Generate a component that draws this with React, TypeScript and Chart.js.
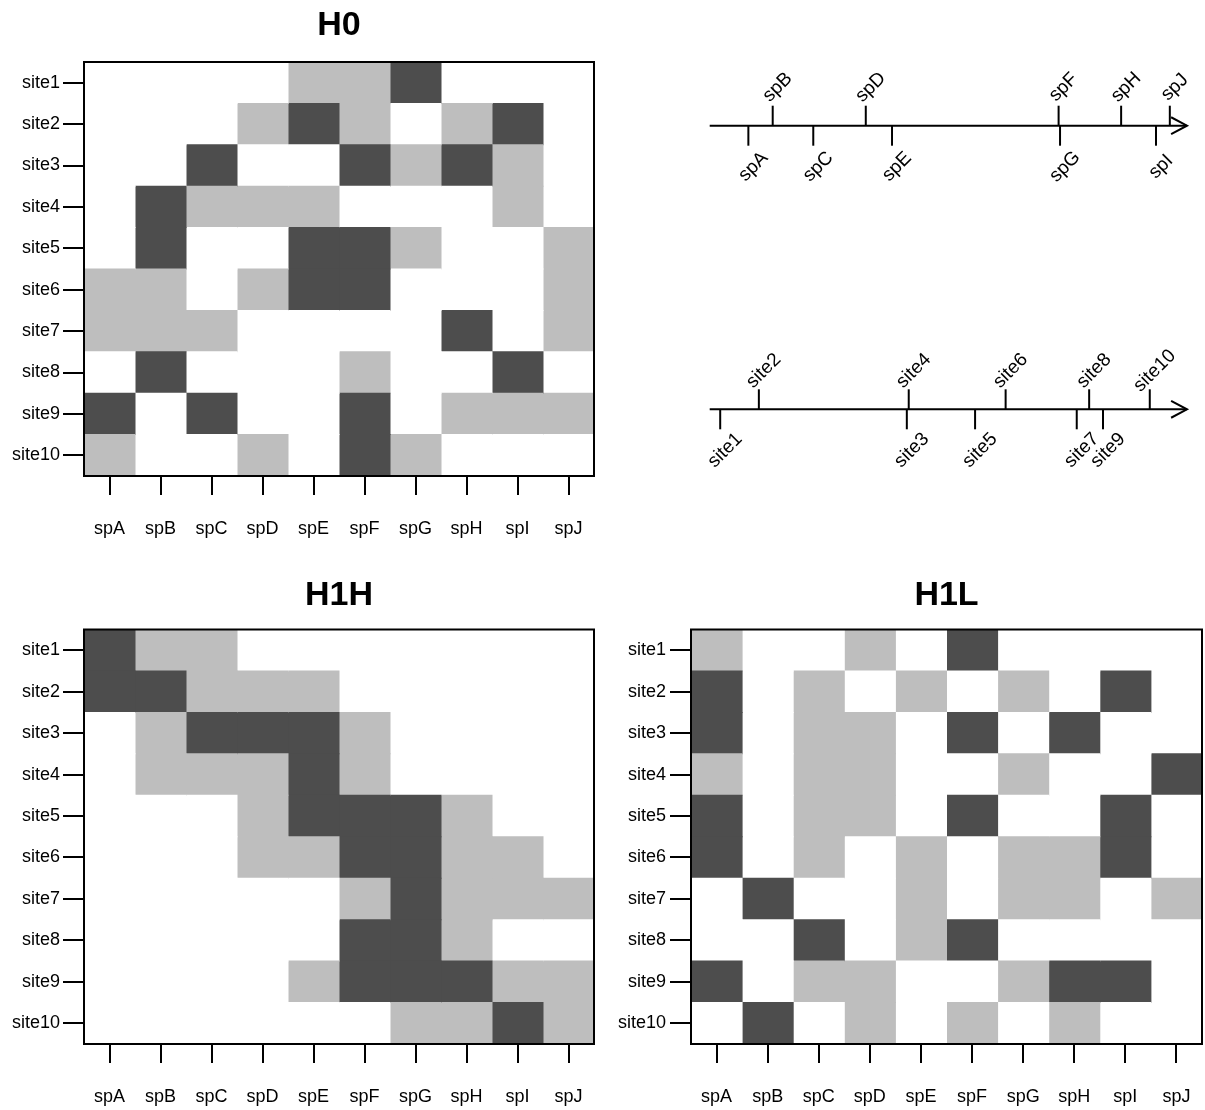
import { useEffect, useRef } from 'react';
import { Chart, registerables } from 'chart.js';

Chart.register(...registerables);

const FONT = '"Liberation Sans", Arial, Helvetica, sans-serif';
Chart.defaults.font.family = FONT;
Chart.defaults.color = '#000';

// Species (columns) and sites (rows)
const species = ['spA', 'spB', 'spC', 'spD', 'spE', 'spF', 'spG', 'spH', 'spI', 'spJ'];
const sites = ['site1', 'site2', 'site3', 'site4', 'site5', 'site6', 'site7', 'site8', 'site9', 'site10'];

// Abundance class per cell: 0 = absent, 1 = low, 2 = high (rows = sites, columns = species)
const h0Grid = [
  [0, 0, 0, 0, 1, 1, 2, 0, 0, 0],
  [0, 0, 0, 1, 2, 1, 0, 1, 2, 0],
  [0, 0, 2, 0, 0, 2, 1, 2, 1, 0],
  [0, 2, 1, 1, 1, 0, 0, 0, 1, 0],
  [0, 2, 0, 0, 2, 2, 1, 0, 0, 1],
  [1, 1, 0, 1, 2, 2, 0, 0, 0, 1],
  [1, 1, 1, 0, 0, 0, 0, 2, 0, 1],
  [0, 2, 0, 0, 0, 1, 0, 0, 2, 0],
  [2, 0, 2, 0, 0, 2, 0, 1, 1, 1],
  [1, 0, 0, 1, 0, 2, 1, 0, 0, 0],
];

const h1hGrid = [
  [2, 1, 1, 0, 0, 0, 0, 0, 0, 0],
  [2, 2, 1, 1, 1, 0, 0, 0, 0, 0],
  [0, 1, 2, 2, 2, 1, 0, 0, 0, 0],
  [0, 1, 1, 1, 2, 1, 0, 0, 0, 0],
  [0, 0, 0, 1, 2, 2, 2, 1, 0, 0],
  [0, 0, 0, 1, 1, 2, 2, 1, 1, 0],
  [0, 0, 0, 0, 0, 1, 2, 1, 1, 1],
  [0, 0, 0, 0, 0, 2, 2, 1, 0, 0],
  [0, 0, 0, 0, 1, 2, 2, 2, 1, 1],
  [0, 0, 0, 0, 0, 0, 1, 1, 2, 1],
];

const h1lGrid = [
  [1, 0, 0, 1, 0, 2, 0, 0, 0, 0],
  [2, 0, 1, 0, 1, 0, 1, 0, 2, 0],
  [2, 0, 1, 1, 0, 2, 0, 2, 0, 0],
  [1, 0, 1, 1, 0, 0, 1, 0, 0, 2],
  [2, 0, 1, 1, 0, 2, 0, 0, 2, 0],
  [2, 0, 1, 0, 1, 0, 1, 1, 2, 0],
  [0, 2, 0, 0, 1, 0, 1, 1, 0, 1],
  [0, 0, 2, 0, 1, 2, 0, 0, 0, 0],
  [2, 0, 1, 1, 0, 0, 1, 2, 2, 0],
  [0, 2, 0, 1, 0, 1, 0, 1, 0, 0],
];

// Positions along the gradient (0 = start of axis, 1 = arrow tip)
const speciesScores = [0.081, 0.132, 0.217, 0.327, 0.382, 0.731, 0.734, 0.862, 0.935, 0.964];
const siteScores = [0.022, 0.103, 0.413, 0.417, 0.556, 0.62, 0.769, 0.795, 0.824, 0.922];

const shadeColors = ['#ffffff', '#bebebe', '#4d4d4d'];

// Draws the closed frame around the plotting region
const framePlugin = {
  id: 'frame',
  afterDraw(chart: any) {
    const { ctx, chartArea: a } = chart;
    ctx.save();
    ctx.strokeStyle = '#000';
    ctx.lineWidth = 2;
    ctx.strokeRect(a.left, a.top, a.right - a.left, a.bottom - a.top);
    ctx.restore();
  },
};

type HeatDims = { yAxisWidth: number; yLabelGap: number; xAxisHeight: number; padRight: number; titleGap: number };

function heatmapConfig(title: string, grid: number[][], dims: HeatDims): any {
  return {
    type: 'bar',
    data: {
      labels: sites,
      datasets: species.map((sp, j) => ({
        label: sp,
        data: sites.map(() => 1),
        backgroundColor: sites.map((_, i) => shadeColors[grid[i][j]]),
        borderWidth: 0,
        barPercentage: 1,
        categoryPercentage: 1,
        inflateAmount: 0.5,
        stack: 'cells',
      })),
    },
    options: {
      indexAxis: 'y',
      responsive: false,
      animation: false,
      devicePixelRatio: 1,
      events: [],
      layout: { padding: { left: 0, right: dims.padRight, top: 0, bottom: 0 } },
      plugins: {
        legend: { display: false },
        tooltip: { enabled: false },
        title: {
          display: true,
          text: title,
          fullSize: false,
          color: '#000',
          font: { size: 34, weight: 'bold', family: FONT, lineHeight: 1.2 },
          padding: { top: 5, bottom: dims.titleGap },
        },
      },
      scales: {
        x: {
          type: 'linear',
          stacked: true,
          min: 0,
          max: species.length,
          afterBuildTicks: (axis: any) => {
            axis.ticks = species.map((_, j) => ({ value: j + 0.5 }));
          },
          afterFit: (axis: any) => {
            axis.height = dims.xAxisHeight;
            axis.paddingLeft = 0;
            axis.paddingRight = 0;
          },
          ticks: {
            callback: (_v: any, idx: number) => species[idx],
            color: '#000',
            font: { size: 18 },
            padding: 23,
            autoSkip: false,
            maxRotation: 0,
            minRotation: 0,
          },
          grid: { drawOnChartArea: false, drawTicks: true, tickLength: 19, color: '#000', lineWidth: 2 },
          border: { display: false },
        },
        y: {
          type: 'category',
          stacked: true,
          offset: true,
          afterFit: (axis: any) => {
            axis.width = dims.yAxisWidth;
            axis.paddingTop = 0;
            axis.paddingBottom = 0;
          },
          ticks: { color: '#000', font: { size: 18 }, padding: dims.yLabelGap, autoSkip: false },
          grid: { offset: false, drawOnChartArea: false, drawTicks: true, tickLength: 21, color: '#000', lineWidth: 2 },
          border: { display: false },
        },
      },
    },
    plugins: [framePlugin],
  };
}

// Labels, alternating above/below the axis, and the arrow head
function gradientPlugin(names: string[], scores: number[]) {
  return {
    id: 'gradientLabels',
    afterDatasetsDraw(chart: any) {
      const { ctx } = chart;
      const x = chart.scales.x;
      const y = chart.scales.y;
      ctx.save();
      ctx.fillStyle = '#000';
      ctx.font = `19px ${FONT}`;
      ctx.textAlign = 'center';
      ctx.textBaseline = 'middle';
      names.forEach((name, i) => {
        const above = i % 2 === 1;
        const px = x.getPixelForValue(scores[i]);
        const end = y.getPixelForValue(above ? 1 : -1);
        const cy = above ? end - 18.5 : end + 21;
        ctx.save();
        ctx.translate(px + 5, cy);
        ctx.rotate(-Math.PI / 4);
        ctx.fillText(name, 0, 0);
        ctx.restore();
      });
      const tx = x.getPixelForValue(1);
      const ty = y.getPixelForValue(0);
      const len = 18;
      const ang = (28 * Math.PI) / 180;
      ctx.strokeStyle = '#000';
      ctx.lineWidth = 2;
      ctx.beginPath();
      ctx.moveTo(tx - len * Math.cos(ang), ty - len * Math.sin(ang));
      ctx.lineTo(tx, ty);
      ctx.lineTo(tx - len * Math.cos(ang), ty + len * Math.sin(ang));
      ctx.stroke();
      ctx.restore();
    },
  };
}

function gradientConfig(names: string[], scores: number[], pad: { left: number; right: number; top: number; bottom: number }): any {
  return {
    type: 'scatter',
    data: {
      datasets: [
        {
          type: 'line',
          data: [
            { x: 0, y: 0 },
            { x: 1, y: 0 },
          ],
          borderColor: '#000',
          borderWidth: 2,
          pointRadius: 0,
          showLine: true,
          clip: false,
        },
        {
          data: scores.map((s, i) => ({ x: s, y: i % 2 === 0 ? -0.5 : 0.5 })),
          pointStyle: 'line',
          pointRadius: 10,
          pointRotation: 90,
          pointBorderWidth: 2,
          pointBorderColor: '#000',
          pointBackgroundColor: '#000',
          clip: false,
        },
      ],
    },
    options: {
      responsive: false,
      animation: false,
      devicePixelRatio: 1,
      events: [],
      layout: { padding: pad },
      plugins: { legend: { display: false }, tooltip: { enabled: false }, title: { display: false } },
      scales: {
        x: { type: 'linear', min: 0, max: 1, display: false },
        y: { type: 'linear', min: -1, max: 1, display: false },
      },
    },
    plugins: [gradientPlugin(names, scores)],
  };
}

const makeH0 = () => heatmapConfig('H0', h0Grid, { yAxisWidth: 84, yLabelGap: 3, xAxisHeight: 84, padRight: 6, titleGap: 16.2 });
const makeH1H = () => heatmapConfig('H1H', h1hGrid, { yAxisWidth: 84, yLabelGap: 3, xAxisHeight: 66, padRight: 6, titleGap: 13.7 });
const makeH1L = () => heatmapConfig('H1L', h1lGrid, { yAxisWidth: 91, yLabelGap: 4, xAxisHeight: 66, padRight: 3, titleGap: 13.7 });
const makeSpeciesAxis = () => gradientConfig(species, speciesScores, { left: 109.7, right: 18, top: 65.7, bottom: 74.3 });
const makeSiteAxis = () => gradientConfig(sites, siteScores, { left: 109.7, right: 18, top: 69.3, bottom: 70.7 });

function ChartCanvas({ make, left, top, width, height }: { make: () => any; left: number; top: number; width: number; height: number }) {
  const ref = useRef<HTMLCanvasElement>(null);
  useEffect(() => {
    if (!ref.current) return;
    const chart = new Chart(ref.current, make());
    return () => chart.destroy();
  }, [make]);
  return (
    <canvas
      ref={ref}
      width={width}
      height={height}
      style={{ position: 'absolute', left, top, width, height, display: 'block' }}
    />
  );
}

export default function App() {
  return (
    <div style={{ position: 'absolute', left: 0, top: 0, width: 1205, height: 1110, background: '#fff', overflow: 'hidden' }}>
      <ChartCanvas make={makeH0} left={0} top={0} width={600} height={560} />
      <ChartCanvas make={makeSpeciesAxis} left={600} top={40} width={605} height={180} />
      <ChartCanvas make={makeSiteAxis} left={600} top={320} width={605} height={180} />
      <ChartCanvas make={makeH1H} left={0} top={570} width={600} height={540} />
      <ChartCanvas make={makeH1L} left={600} top={570} width={605} height={540} />
    </div>
  );
}
